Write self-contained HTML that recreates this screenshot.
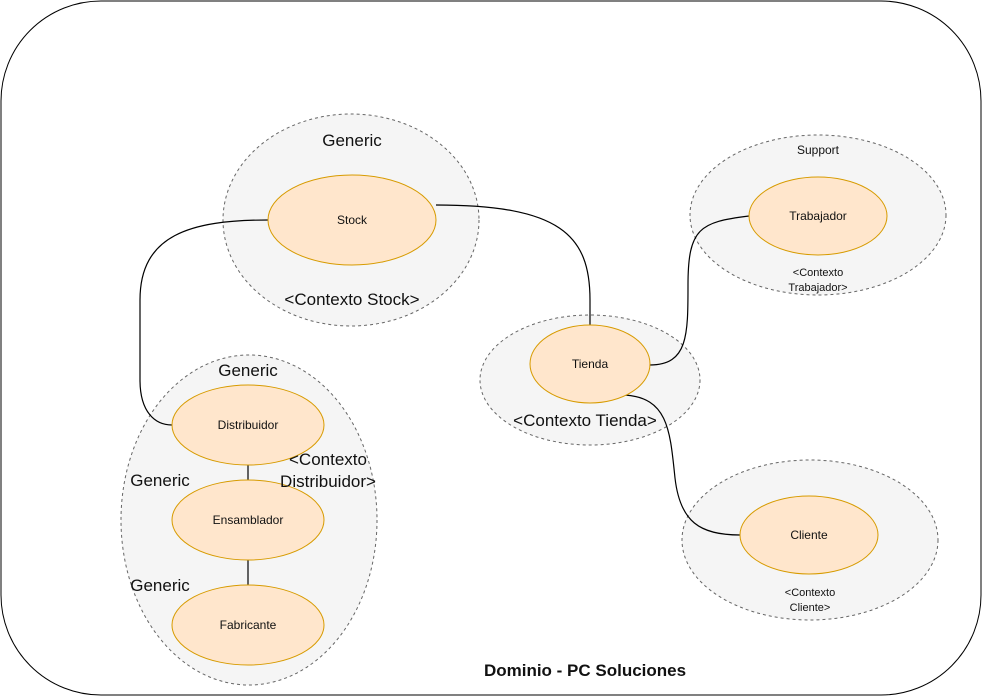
<!DOCTYPE html>
<html><head><style>body{margin:0;background:#fff}svg{display:block}text{font-family:"Liberation Sans",Arial,sans-serif;text-anchor:middle;fill:#111}</style></head>
<body>
<svg width="982" height="696" viewBox="0 0 982 696" xmlns="http://www.w3.org/2000/svg">
<rect x="1" y="1" width="980" height="694" rx="100" ry="100" fill="#fff" stroke="#000" stroke-width="1"/>
<g fill="#f5f5f5" stroke="#666" stroke-dasharray="3,3">
<ellipse cx="351" cy="220" rx="128" ry="106"/>
<ellipse cx="590" cy="380" rx="110" ry="65"/>
<ellipse cx="818" cy="215" rx="128" ry="80"/>
<ellipse cx="810" cy="540" rx="128" ry="80"/>
<ellipse cx="249" cy="520" rx="128" ry="165"/>
</g>
<g fill="none" stroke="#000" stroke-width="1.2">
<path d="M268,220 C190,220 140,235 140,300 L140,380 C140,412 155,425 172,425"/>
<path d="M436,205 C560,205 590,235 590,300 L590,325"/>
<path d="M650,365 C688,365 688,335 688,285 C688,228 700,222 749,216"/>
<path d="M625,395 C668,398 670,430 675,478 C680,522 700,535 740,535"/>
<path d="M248,465 L248,480 M248,560 L248,585"/>
</g>
<g fill="#ffe6cc" stroke="#d79b00">
<ellipse cx="352" cy="220" rx="84" ry="45"/>
<ellipse cx="590" cy="364" rx="60" ry="39"/>
<ellipse cx="818" cy="216" rx="69" ry="39"/>
<ellipse cx="809" cy="535" rx="69" ry="39"/>
<ellipse cx="248" cy="425" rx="76" ry="40"/>
<ellipse cx="248" cy="520" rx="76" ry="40"/>
<ellipse cx="248" cy="625" rx="76" ry="40"/>
</g>
<g font-size="12">
<text x="352" y="224">Stock</text>
<text x="590" y="368">Tienda</text>
<text x="818" y="220">Trabajador</text>
<text x="809" y="539">Cliente</text>
<text x="248" y="429">Distribuidor</text>
<text x="248" y="524">Ensamblador</text>
<text x="248" y="629">Fabricante</text>
<text x="818" y="154">Support</text>
</g>
<g font-size="11">
<text x="818" y="276">&lt;Contexto</text>
<text x="818" y="291">Trabajador&gt;</text>
<text x="810" y="596">&lt;Contexto</text>
<text x="810" y="611">Cliente&gt;</text>
</g>
<g font-size="17">
<text x="352" y="146">Generic</text>
<text x="352" y="305">&lt;Contexto Stock&gt;</text>
<text x="585" y="426">&lt;Contexto Tienda&gt;</text>
<text x="248" y="376">Generic</text>
<text x="160" y="486">Generic</text>
<text x="160" y="591">Generic</text>
<text x="328" y="465">&lt;Contexto</text>
<text x="328" y="487">Distribuidor&gt;</text>
<text x="585" y="676" font-weight="bold">Dominio - PC Soluciones</text>
</g>
</svg>
</body></html>
